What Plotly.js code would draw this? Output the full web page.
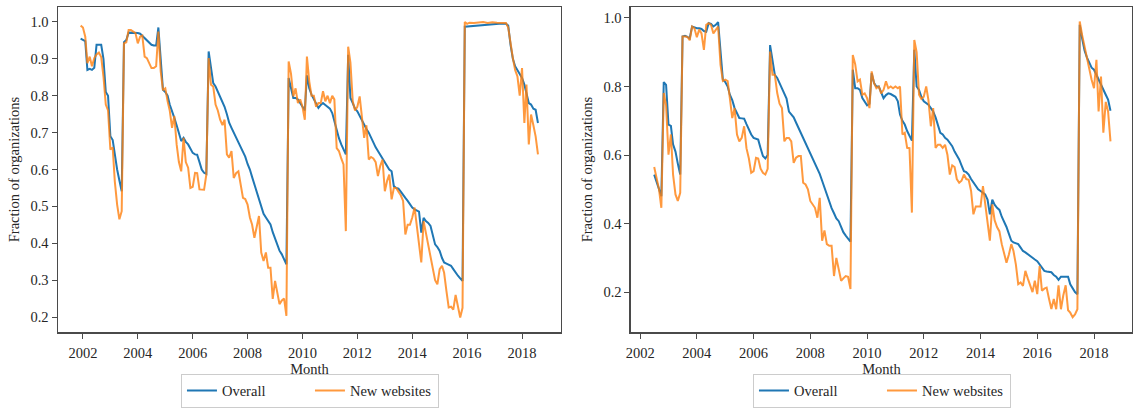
<!DOCTYPE html>
<html>
<head>
<meta charset="utf-8">
<script src="https://cdn.plot.ly/plotly-3.0.1.min.js"></script>
<style>html,body{margin:0;padding:0;background:#fff;}#chart{width:1133px;height:408px;}</style>
</head>
<body>
<div id="chart"></div>
<script>
// Series names
const seriesNames = ['Overall', 'New websites'];
const xTickYears = ['2002','2004','2006','2008','2010','2012','2014','2016','2018'];

// Left panel: Overall
const leftOverall = [
['2001-12',0.955],['2002-01',0.952],['2002-02',0.948],['2002-03',0.870],['2002-04',0.873],['2002-05',0.870],['2002-06',0.876],['2002-07',0.938],['2002-08',0.938],['2002-09',0.938],['2002-10',0.900],['2002-11',0.810],['2002-12',0.800],
['2003-01',0.690],['2003-02',0.680],['2003-03',0.640],['2003-04',0.600],['2003-05',0.570],['2003-06',0.541],['2003-07',0.945],['2003-08',0.951],['2003-09',0.971],['2003-10',0.971],['2003-11',0.971],['2003-12',0.970],
['2004-01',0.970],['2004-02',0.968],['2004-03',0.962],['2004-04',0.955],['2004-05',0.950],['2004-06',0.945],['2004-07',0.938],['2004-08',0.936],['2004-09',0.936],['2004-10',0.985],['2004-11',0.884],['2004-12',0.816],
['2005-01',0.810],['2005-02',0.800],['2005-03',0.776],['2005-04',0.760],['2005-05',0.740],['2005-06',0.720],['2005-07',0.700],['2005-08',0.677],['2005-09',0.686],['2005-10',0.675],['2005-11',0.668],['2005-12',0.655],
['2006-01',0.645],['2006-02',0.641],['2006-03',0.640],['2006-04',0.620],['2006-05',0.600],['2006-06',0.591],['2006-07',0.588],['2006-08',0.920],['2006-09',0.875],['2006-10',0.834],['2006-11',0.825],['2006-12',0.812],
['2007-01',0.800],['2007-02',0.785],['2007-03',0.770],['2007-04',0.750],['2007-05',0.727],['2007-06',0.713],['2007-07',0.700],['2007-08',0.690],['2007-09',0.675],['2007-10',0.660],['2007-11',0.650],['2007-12',0.635],
['2008-01',0.615],['2008-02',0.600],['2008-03',0.580],['2008-04',0.560],['2008-05',0.541],['2008-06',0.520],['2008-07',0.500],['2008-08',0.480],['2008-09',0.470],['2008-10',0.460],['2008-11',0.451],['2008-12',0.430],
['2009-01',0.411],['2009-02',0.395],['2009-03',0.380],['2009-04',0.370],['2009-05',0.355],['2009-06',0.343],['2009-07',0.848],['2009-08',0.820],['2009-09',0.794],['2009-10',0.794],['2009-11',0.790],['2009-12',0.780],
['2010-01',0.770],['2010-02',0.760],['2010-03',0.855],['2010-04',0.820],['2010-05',0.803],['2010-06',0.790],['2010-07',0.780],['2010-08',0.767],['2010-09',0.775],['2010-10',0.780],['2010-11',0.775],['2010-12',0.770],
['2011-01',0.765],['2011-02',0.753],['2011-03',0.730],['2011-04',0.704],['2011-05',0.685],['2011-06',0.668],['2011-07',0.655],['2011-08',0.641],['2011-09',0.911],['2011-10',0.794],['2011-11',0.780],['2011-12',0.765],
['2012-01',0.758],['2012-02',0.745],['2012-03',0.735],['2012-04',0.721],['2012-05',0.710],['2012-06',0.700],['2012-07',0.686],['2012-08',0.672],['2012-09',0.660],['2012-10',0.650],['2012-11',0.640],['2012-12',0.630],
['2013-01',0.622],['2013-02',0.610],['2013-03',0.600],['2013-04',0.595],['2013-05',0.555],['2013-06',0.550],['2013-07',0.548],['2013-08',0.540],['2013-09',0.530],['2013-10',0.523],['2013-11',0.515],['2013-12',0.505],
['2014-01',0.497],['2014-02',0.492],['2014-03',0.488],['2014-04',0.486],['2014-05',0.429],['2014-06',0.469],['2014-07',0.460],['2014-08',0.455],['2014-09',0.447],['2014-10',0.420],['2014-11',0.397],['2014-12',0.390],
['2015-01',0.379],['2015-02',0.360],['2015-03',0.348],['2015-04',0.345],['2015-05',0.342],['2015-06',0.339],['2015-07',0.330],['2015-08',0.320],['2015-09',0.312],['2015-10',0.305],['2015-11',0.298],['2015-12',0.987],
['2016-03',0.989],['2016-06',0.990],['2016-09',0.992],['2016-12',0.994],['2017-03',0.995],['2017-06',0.995],['2017-07',0.990],['2017-08',0.938],['2017-09',0.900],['2017-10',0.880],['2017-11',0.870],['2017-12',0.860],
['2018-01',0.848],['2018-02',0.830],['2018-03',0.807],['2018-04',0.780],['2018-05',0.776],['2018-06',0.765],['2018-07',0.762],['2018-08',0.726]
];

// Left panel: New websites
const leftNew = [
['2001-12',0.990],['2002-01',0.985],['2002-02',0.960],['2002-03',0.888],['2002-04',0.906],['2002-05',0.880],['2002-06',0.902],['2002-07',0.912],['2002-08',0.917],['2002-09',0.905],['2002-10',0.852],['2002-11',0.776],['2002-12',0.760],
['2003-01',0.654],['2003-02',0.660],['2003-03',0.568],['2003-04',0.505],['2003-05',0.465],['2003-06',0.487],['2003-07',0.942],['2003-08',0.945],['2003-09',0.978],['2003-10',0.978],['2003-11',0.975],['2003-12',0.970],
['2004-01',0.942],['2004-02',0.960],['2004-03',0.963],['2004-04',0.906],['2004-05',0.902],['2004-06',0.890],['2004-07',0.875],['2004-08',0.875],['2004-09',0.880],['2004-10',0.974],['2004-11',0.866],['2004-12',0.815],
['2005-01',0.820],['2005-02',0.785],['2005-03',0.760],['2005-04',0.713],['2005-05',0.745],['2005-06',0.668],['2005-07',0.620],['2005-08',0.595],['2005-09',0.686],['2005-10',0.620],['2005-11',0.605],['2005-12',0.550],
['2006-01',0.553],['2006-02',0.591],['2006-03',0.590],['2006-04',0.546],['2006-05',0.545],['2006-06',0.545],['2006-07',0.586],['2006-08',0.902],['2006-09',0.830],['2006-10',0.825],['2006-11',0.776],['2006-12',0.760],
['2007-01',0.735],['2007-02',0.720],['2007-03',0.735],['2007-04',0.641],['2007-05',0.632],['2007-06',0.650],['2007-07',0.577],['2007-08',0.590],['2007-09',0.595],['2007-10',0.555],['2007-11',0.523],['2007-12',0.520],
['2008-01',0.505],['2008-02',0.470],['2008-03',0.451],['2008-04',0.415],['2008-05',0.440],['2008-06',0.474],['2008-07',0.375],['2008-08',0.352],['2008-09',0.375],['2008-10',0.334],['2008-11',0.334],['2008-12',0.249],
['2009-01',0.298],['2009-02',0.260],['2009-03',0.235],['2009-04',0.245],['2009-05',0.250],['2009-06',0.203],['2009-07',0.893],['2009-08',0.860],['2009-09',0.798],['2009-10',0.820],['2009-11',0.780],['2009-12',0.790],
['2010-01',0.770],['2010-02',0.735],['2010-03',0.906],['2010-04',0.839],['2010-05',0.800],['2010-06',0.800],['2010-07',0.770],['2010-08',0.780],['2010-09',0.780],['2010-10',0.812],['2010-11',0.785],['2010-12',0.800],
['2011-01',0.780],['2011-02',0.800],['2011-03',0.790],['2011-04',0.658],['2011-05',0.650],['2011-06',0.630],['2011-07',0.614],['2011-08',0.433],['2011-09',0.933],['2011-10',0.890],['2011-11',0.785],['2011-12',0.760],
['2012-01',0.770],['2012-02',0.798],['2012-03',0.750],['2012-04',0.686],['2012-05',0.720],['2012-06',0.627],['2012-07',0.634],['2012-08',0.630],['2012-09',0.620],['2012-10',0.582],['2012-11',0.610],['2012-12',0.627],
['2013-01',0.541],['2013-02',0.570],['2013-03',0.586],['2013-04',0.519],['2013-05',0.550],['2013-06',0.550],['2013-07',0.540],['2013-08',0.530],['2013-09',0.515],['2013-10',0.424],['2013-11',0.450],['2013-12',0.450],
['2014-01',0.470],['2014-02',0.497],['2014-03',0.450],['2014-04',0.400],['2014-05',0.348],['2014-06',0.460],['2014-07',0.430],['2014-08',0.400],['2014-09',0.360],['2014-10',0.330],['2014-11',0.300],['2014-12',0.289],
['2015-01',0.330],['2015-02',0.339],['2015-03',0.320],['2015-04',0.270],['2015-05',0.226],['2015-06',0.228],['2015-07',0.220],['2015-08',0.260],['2015-09',0.225],['2015-10',0.199],['2015-11',0.225],['2015-12',1.000],
['2016-01',0.995],['2016-02',0.998],['2016-04',0.997],['2016-06',0.999],['2016-08',1.000],['2016-10',0.997],['2016-12',0.999],['2017-02',0.998],['2017-04',0.998],['2017-06',0.997],['2017-07',0.985],['2017-08',0.940],
['2017-09',0.902],['2017-10',0.870],['2017-11',0.852],['2017-12',0.800],['2018-01',0.875],['2018-02',0.726],['2018-03',0.830],['2018-04',0.668],['2018-05',0.749],['2018-06',0.720],['2018-07',0.690],['2018-08',0.641]
];

// Right panel: Overall
const rightOverall = [
['2002-07',0.543],['2002-08',0.520],['2002-09',0.500],['2002-10',0.480],['2002-11',0.813],['2002-12',0.805],
['2003-01',0.689],['2003-02',0.685],['2003-03',0.631],['2003-04',0.610],['2003-05',0.575],['2003-06',0.543],['2003-07',0.946],['2003-08',0.948],['2003-09',0.945],['2003-10',0.940],['2003-11',0.975],['2003-12',0.972],
['2004-01',0.970],['2004-02',0.970],['2004-03',0.968],['2004-04',0.962],['2004-05',0.960],['2004-06',0.985],['2004-07',0.983],['2004-08',0.975],['2004-09',0.980],['2004-10',0.988],['2004-11',0.887],['2004-12',0.820],
['2005-01',0.813],['2005-02',0.800],['2005-03',0.776],['2005-04',0.760],['2005-05',0.737],['2005-06',0.720],['2005-07',0.708],['2005-08',0.707],['2005-09',0.706],['2005-10',0.690],['2005-11',0.674],['2005-12',0.660],
['2006-01',0.650],['2006-02',0.647],['2006-03',0.645],['2006-04',0.620],['2006-05',0.597],['2006-06',0.590],['2006-07',0.600],['2006-08',0.921],['2006-09',0.870],['2006-10',0.834],['2006-11',0.825],['2006-12',0.810],
['2007-01',0.795],['2007-02',0.780],['2007-03',0.765],['2007-04',0.727],['2007-05',0.720],['2007-06',0.710],['2007-07',0.695],['2007-08',0.680],['2007-09',0.665],['2007-10',0.650],['2007-11',0.636],['2007-12',0.620],
['2008-01',0.605],['2008-02',0.590],['2008-03',0.575],['2008-04',0.563],['2008-05',0.545],['2008-06',0.525],['2008-07',0.505],['2008-08',0.485],['2008-09',0.466],['2008-10',0.445],['2008-11',0.430],['2008-12',0.415],
['2009-01',0.407],['2009-02',0.390],['2009-03',0.375],['2009-04',0.365],['2009-05',0.355],['2009-06',0.347],['2009-07',0.849],['2009-08',0.795],['2009-09',0.795],['2009-10',0.790],['2009-11',0.766],['2009-12',0.755],
['2010-01',0.745],['2010-02',0.750],['2010-03',0.839],['2010-04',0.810],['2010-05',0.800],['2010-06',0.800],['2010-07',0.780],['2010-08',0.766],['2010-09',0.775],['2010-10',0.780],['2010-11',0.778],['2010-12',0.775],
['2011-01',0.770],['2011-02',0.757],['2011-03',0.718],['2011-04',0.700],['2011-05',0.689],['2011-06',0.670],['2011-07',0.655],['2011-08',0.642],['2011-09',0.907],['2011-10',0.800],['2011-11',0.790],['2011-12',0.770],
['2012-01',0.757],['2012-02',0.752],['2012-03',0.747],['2012-04',0.737],['2012-05',0.727],['2012-06',0.710],['2012-07',0.689],['2012-08',0.665],['2012-09',0.660],['2012-10',0.650],['2012-11',0.645],['2012-12',0.635],
['2013-01',0.626],['2013-02',0.610],['2013-03',0.600],['2013-04',0.587],['2013-05',0.570],['2013-06',0.553],['2013-07',0.550],['2013-08',0.543],['2013-09',0.530],['2013-10',0.520],['2013-11',0.510],['2013-12',0.500],
['2014-01',0.495],['2014-02',0.490],['2014-03',0.485],['2014-04',0.470],['2014-05',0.427],['2014-06',0.470],['2014-07',0.455],['2014-08',0.446],['2014-09',0.440],['2014-10',0.420],['2014-11',0.407],['2014-12',0.390],
['2015-01',0.370],['2015-02',0.350],['2015-03',0.345],['2015-04',0.342],['2015-05',0.340],['2015-06',0.330],['2015-07',0.320],['2015-08',0.316],['2015-09',0.310],['2015-10',0.305],['2015-11',0.300],['2015-12',0.295],
['2016-01',0.290],['2016-02',0.281],['2016-03',0.270],['2016-04',0.262],['2016-05',0.260],['2016-06',0.258],['2016-07',0.258],['2016-08',0.250],['2016-09',0.245],['2016-10',0.236],['2016-11',0.245],['2016-12',0.245],
['2017-01',0.245],['2017-02',0.245],['2017-03',0.223],['2017-04',0.210],['2017-05',0.200],['2017-06',0.194],['2017-07',0.980],['2017-08',0.940],['2017-09',0.905],['2017-10',0.885],['2017-11',0.868],['2017-12',0.855],
['2018-01',0.849],['2018-02',0.835],['2018-03',0.820],['2018-04',0.805],['2018-05',0.790],['2018-06',0.776],['2018-07',0.762],['2018-08',0.729]
];

// Right panel: New websites
const rightNew = [
['2002-07',0.565],['2002-08',0.535],['2002-09',0.500],['2002-10',0.446],['2002-11',0.781],['2002-12',0.745],
['2003-01',0.601],['2003-02',0.660],['2003-03',0.543],['2003-04',0.485],['2003-05',0.466],['2003-06',0.490],['2003-07',0.946],['2003-08',0.946],['2003-09',0.945],['2003-10',0.935],['2003-11',0.975],['2003-12',0.970],
['2004-01',0.944],['2004-02',0.966],['2004-03',0.955],['2004-04',0.907],['2004-05',0.980],['2004-06',0.985],['2004-07',0.980],['2004-08',0.955],['2004-09',0.965],['2004-10',0.975],['2004-11',0.863],['2004-12',0.816],
['2005-01',0.820],['2005-02',0.816],['2005-03',0.766],['2005-04',0.708],['2005-05',0.737],['2005-06',0.660],['2005-07',0.640],['2005-08',0.650],['2005-09',0.684],['2005-10',0.620],['2005-11',0.590],['2005-12',0.548],
['2006-01',0.553],['2006-02',0.592],['2006-03',0.590],['2006-04',0.560],['2006-05',0.548],['2006-06',0.543],['2006-07',0.560],['2006-08',0.902],['2006-09',0.834],['2006-10',0.834],['2006-11',0.781],['2006-12',0.750],
['2007-01',0.737],['2007-02',0.640],['2007-03',0.650],['2007-04',0.650],['2007-05',0.640],['2007-06',0.577],['2007-07',0.592],['2007-08',0.597],['2007-09',0.597],['2007-10',0.519],['2007-11',0.514],['2007-12',0.500],
['2008-01',0.466],['2008-02',0.455],['2008-03',0.446],['2008-04',0.417],['2008-05',0.475],['2008-06',0.350],['2008-07',0.380],['2008-08',0.340],['2008-09',0.335],['2008-10',0.335],['2008-11',0.247],['2008-12',0.300],
['2009-01',0.270],['2009-02',0.233],['2009-03',0.240],['2009-04',0.247],['2009-05',0.245],['2009-06',0.209],['2009-07',0.892],['2009-08',0.865],['2009-09',0.815],['2009-10',0.820],['2009-11',0.776],['2009-12',0.780],
['2010-01',0.766],['2010-02',0.737],['2010-03',0.844],['2010-04',0.810],['2010-05',0.795],['2010-06',0.800],['2010-07',0.780],['2010-08',0.790],['2010-09',0.815],['2010-10',0.795],['2010-11',0.800],['2010-12',0.795],
['2011-01',0.800],['2011-02',0.795],['2011-03',0.800],['2011-04',0.660],['2011-05',0.665],['2011-06',0.621],['2011-07',0.620],['2011-08',0.432],['2011-09',0.936],['2011-10',0.900],['2011-11',0.776],['2011-12',0.764],
['2012-01',0.770],['2012-02',0.800],['2012-03',0.760],['2012-04',0.684],['2012-05',0.737],['2012-06',0.621],['2012-07',0.630],['2012-08',0.630],['2012-09',0.621],['2012-10',0.630],['2012-11',0.600],['2012-12',0.543],
['2013-01',0.570],['2013-02',0.565],['2013-03',0.530],['2013-04',0.519],['2013-05',0.525],['2013-06',0.543],['2013-07',0.530],['2013-08',0.528],['2013-09',0.495],['2013-10',0.427],['2013-11',0.450],['2013-12',0.450],
['2014-01',0.450],['2014-02',0.509],['2014-03',0.455],['2014-04',0.400],['2014-05',0.350],['2014-06',0.456],['2014-07',0.410],['2014-08',0.390],['2014-09',0.377],['2014-10',0.340],['2014-11',0.310],['2014-12',0.286],
['2015-01',0.310],['2015-02',0.340],['2015-03',0.320],['2015-04',0.280],['2015-05',0.223],['2015-06',0.228],['2015-07',0.218],['2015-08',0.262],['2015-09',0.240],['2015-10',0.223],['2015-11',0.200],['2015-12',0.233],
['2016-01',0.194],['2016-02',0.276],['2016-03',0.204],['2016-04',0.210],['2016-05',0.213],['2016-06',0.180],['2016-07',0.151],['2016-08',0.180],['2016-09',0.150],['2016-10',0.220],['2016-11',0.150],['2016-12',0.190],
['2017-01',0.220],['2017-02',0.147],['2017-03',0.140],['2017-04',0.127],['2017-05',0.135],['2017-06',0.150],['2017-07',0.990],['2017-08',0.950],['2017-09',0.915],['2017-10',0.878],['2017-11',0.850],['2017-12',0.820],
['2018-01',0.795],['2018-02',0.878],['2018-03',0.727],['2018-04',0.829],['2018-05',0.665],['2018-06',0.755],['2018-07',0.727],['2018-08',0.640]
];

const BLUE = '#1f77b4';
const ORANGE = '#ff7f0e';
const FONT = '"Liberation Serif", "Times New Roman", serif';
const TXT = '#262626';
const AX = '#4a4a4a';

function mk(pairs, name, color, opacity, xa, ya, leg) {
  return {
    type: 'scatter', mode: 'lines', name: name,
    x: pairs.map(p => p[0] + '-01'), y: pairs.map(p => p[1]),
    xaxis: xa, yaxis: ya, legend: leg, opacity: opacity,
    line: {color: color, width: 2}, hoverinfo: 'x+y'
  };
}

const data = [
  mk(leftOverall, seriesNames[0], BLUE, 1, 'x', 'y', 'legend'),
  mk(leftNew, seriesNames[1], ORANGE, 0.8, 'x', 'y', 'legend'),
  mk(rightOverall, seriesNames[0], BLUE, 1, 'x2', 'y2', 'legend2'),
  mk(rightNew, seriesNames[1], ORANGE, 0.8, 'x2', 'y2', 'legend2')
];

const tickVals = xTickYears.map(y => y + '-01-01');

function xax(domain, range, anchor) {
  return {
    domain: domain, anchor: anchor, type: 'date', range: range,
    tickvals: tickVals, ticktext: xTickYears,
    ticks: 'outside', ticklen: 5, tickwidth: 1, tickcolor: AX,
    ticklabelstandoff: 2,
    showline: true, mirror: true, linecolor: AX, linewidth: 1.5,
    showgrid: false, zeroline: false,
    tickfont: {family: FONT, size: 14.5, color: TXT},
    title: {text: 'Month', font: {family: FONT, size: 14.5, color: TXT}, standoff: 1}
  };
}
function yax(range, dtick, anchor) {
  return {
    anchor: anchor, domain: [0, 1], range: range, dtick: dtick, tick0: 0, tickformat: '.1f',
    ticks: 'outside', ticklen: 5, tickwidth: 1, tickcolor: AX,
    showline: true, mirror: true, linecolor: AX, linewidth: 1.5,
    showgrid: false, zeroline: false,
    tickfont: {family: FONT, size: 14.5, color: TXT},
    title: {text: 'Fraction of organizations', font: {family: FONT, size: 14.5, color: TXT}, standoff: 7}
  };
}
function leg(xc) {
  return {
    orientation: 'h', x: xc, xanchor: 'center', y: -0.229, yanchor: 'bottom',
    bordercolor: '#cccccc', borderwidth: 1, bgcolor: '#ffffff',
    entrywidth: 83, entrywidthmode: 'pixels',
    font: {family: FONT, size: 14.5, color: TXT}
  };
}

const layout = {
  width: 1133, height: 408,
  margin: {l: 58, r: 1, t: 7, b: 75},
  paper_bgcolor: '#ffffff', plot_bgcolor: '#ffffff',
  font: {family: FONT, size: 14.5, color: TXT},
  showlegend: true,
  xaxis: xax([0, 0.4683], ['2001-02-03', '2019-06-03'], 'y'),
  yaxis: yax([0.1595, 1.0405], 0.1, 'x'),
  xaxis2: xax([0.5335, 1], ['2001-09-05', '2019-05-05'], 'y2'),
  yaxis2: yax([0.0836, 1.032], 0.2, 'x2'),
  legend: leg(0.2346),
  legend2: leg(0.7672)
};

Plotly.newPlot('chart', data, layout, {displayModeBar: false, staticPlot: true});
</script>
</body>
</html>
